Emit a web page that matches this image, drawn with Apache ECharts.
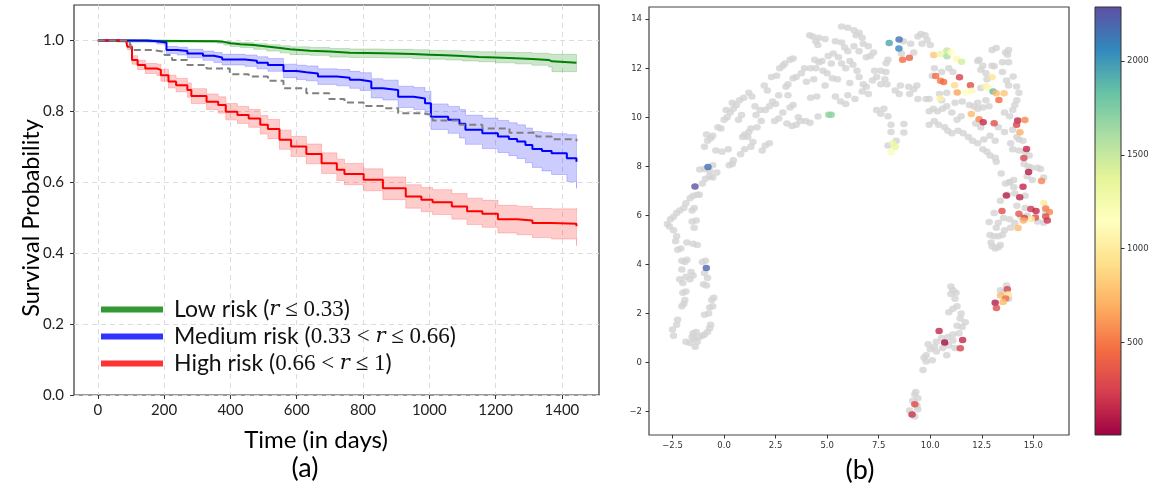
<!DOCTYPE html>
<html><head><meta charset="utf-8">
<script src="https://cdn.jsdelivr.net/npm/echarts@6/dist/echarts.min.js"></script>
<style>html,body{margin:0;padding:0;background:#fff}#c{width:1156px;height:491px}</style>
</head><body><div id="c"></div>
<script>
// ---------- Panel (a): Kaplan-Meier curves ----------
const LOW_T  = [0,60,360,380,400,430,470,510,550,580,640,700,760,860,950,1000,1050,1100,1150,1200,1260,1310,1360,1370,1444];
const LOW_S  = [1.0,0.998,0.996,0.992,0.989,0.987,0.983,0.979,0.975,0.971,0.969,0.965,0.964,0.962,0.960,0.958,0.956,0.953,0.952,0.950,0.948,0.945,0.941,0.937,0.937];
const LOW_UP = [1.0,1.0,0.999,0.997,0.995,0.994,0.991,0.988,0.985,0.982,0.980,0.977,0.976,0.975,0.974,0.972,0.971,0.969,0.968,0.967,0.966,0.964,0.962,0.961,0.961];
const LOW_LO = [1.0,0.995,0.992,0.987,0.983,0.980,0.975,0.970,0.965,0.960,0.958,0.953,0.952,0.951,0.949,0.947,0.945,0.942,0.940,0.937,0.934,0.930,0.925,0.912,0.912];

const MED_T  = [0,150,178,207,240,270,317,350,375,444,480,513,560,600,629,664,721,760,791,825,860,906,953,987,1005,1057,1091,1109,1160,1207,1240,1265,1290,1311,1340,1369,1415,1444];
const MED_S  = [1.0,0.998,0.994,0.973,0.970,0.963,0.957,0.952,0.946,0.943,0.937,0.931,0.914,0.910,0.907,0.898,0.895,0.889,0.884,0.865,0.860,0.841,0.836,0.823,0.785,0.776,0.765,0.748,0.738,0.729,0.722,0.715,0.705,0.694,0.688,0.682,0.668,0.658];
const MED_UP = [1.0,1.0,0.998,0.983,0.981,0.975,0.970,0.966,0.961,0.959,0.954,0.949,0.933,0.930,0.928,0.920,0.918,0.913,0.909,0.892,0.888,0.871,0.867,0.856,0.821,0.814,0.805,0.789,0.781,0.774,0.768,0.762,0.753,0.743,0.740,0.737,0.734,0.731];
const MED_LO = [1.0,0.996,0.990,0.963,0.959,0.951,0.944,0.938,0.931,0.927,0.920,0.913,0.895,0.890,0.886,0.876,0.872,0.865,0.859,0.838,0.832,0.811,0.805,0.790,0.749,0.738,0.725,0.707,0.695,0.684,0.675,0.667,0.655,0.642,0.632,0.622,0.602,0.583];

const HIGH_T  = [0,85,89,103,120,143,178,190,213,236,270,282,328,363,386,421,455,490,513,548,583,629,675,721,744,802,860,929,976,1010,1068,1114,1160,1207,1265,1311,1369,1444];
const HIGH_S  = [1.0,0.998,0.982,0.945,0.931,0.921,0.917,0.902,0.884,0.874,0.860,0.843,0.827,0.818,0.799,0.790,0.780,0.762,0.750,0.720,0.701,0.680,0.654,0.635,0.623,0.607,0.583,0.560,0.551,0.544,0.532,0.518,0.511,0.496,0.492,0.485,0.483,0.476];
const HIGH_UP = [1.0,1.0,0.990,0.957,0.944,0.935,0.933,0.919,0.902,0.893,0.880,0.864,0.849,0.841,0.822,0.814,0.805,0.788,0.777,0.747,0.729,0.708,0.683,0.665,0.653,0.638,0.615,0.593,0.585,0.579,0.568,0.555,0.549,0.535,0.532,0.526,0.525,0.527];
const HIGH_LO = [1.0,0.996,0.974,0.933,0.918,0.907,0.901,0.885,0.866,0.855,0.840,0.822,0.805,0.795,0.776,0.766,0.755,0.736,0.723,0.693,0.673,0.652,0.625,0.605,0.593,0.576,0.551,0.527,0.517,0.509,0.496,0.481,0.473,0.457,0.452,0.444,0.440,0.421];

const ALL_T = [0,95,100,166,201,224,270,328,398,455,513,560,629,698,744,802,860,906,976,1010,1091,1160,1242,1323,1369,1444];
const ALL_S = [1.0,1.0,0.973,0.968,0.959,0.945,0.931,0.921,0.905,0.898,0.886,0.865,0.851,0.835,0.825,0.815,0.809,0.795,0.790,0.774,0.762,0.752,0.740,0.729,0.721,0.716];

const SERIES_NAMES = ['Low risk','Medium risk','High risk'];
const LEGEND_LABELS = {
  'Low risk': '{g| }{a|Low risk (}{m|r}{n| ≤ 0.33}{a|)}',
  'Medium risk': '{g| }{a|Medium risk (}{n|0.33 < }{m|r}{n| ≤ 0.66}{a|)}',
  'High risk': '{g| }{a|High risk (}{n|0.66 < }{m|r}{n| ≤ 1}{a|)}'
};
const X_TICKS_A = [0,200,400,600,800,1000,1200,1400];
const Y_TICKS_A = [0,0.2,0.4,0.6,0.8,1.0];
const X_NAME_A = 'Time (in days)';
const Y_NAME_A = 'Survival Probability';
const PANEL_LABELS = ['(a)','(b)'];

// ---------- Panel (b): embedding scatter ----------
const X_TICKS_B = [-2.5,0,2.5,5,7.5,10,12.5,15];
const Y_TICKS_B = [-2,0,2,4,6,8,10,12,14];
const CB_TICKS = [500,1000,1500,2000];
const CB_MIN = 6, CB_MAX = 2288;
const SPECTRAL = ['#9e0142','#d53e4f','#f46d43','#fdae61','#fee08b','#ffffbf','#e6f598','#abdda4','#66c2a5','#3288bd','#5e4fa2'];

const GRAY_PTS = [
[-2.45,1.1],[-2.5,1.35],[-2.3,1.55],[-2.25,1.75],[-1.85,0.85],[-1.65,0.8],[-1.55,1.05],[-1.45,0.95],[-1.4,0.65],[-1.3,0.85],[-1.2,1.05],[-1.05,1.1],[-0.95,1.15],[-0.8,1.25],[-0.7,1.4],[-0.65,1.55],[-1.5,1.2],[-1.35,1.25],[-0.95,1.95],[-0.75,2.0],[-0.7,2.25],[-0.55,2.3],[-0.6,2.55],[-0.5,2.65],[-2.05,2.3],[-1.95,2.4],[-1.9,2.55],[-2.0,2.85],
[-1.85,2.9],[-2.15,3.4],[-2.0,3.25],[-1.85,3.5],[-1.65,3.4],[-1.5,3.55],[-1.6,3.7],[-2.05,3.8],[-1.9,4.1],[-2.05,4.15],[-1.8,4.2],[-1.0,3.2],[-0.85,3.15],[-0.8,3.45],[-0.95,3.65],[-1.05,4.1],[-0.9,4.15],[-2.25,4.6],[-2.1,4.65],[-1.8,4.9],[-1.5,4.85],[-1.3,4.8],
[-2.35,4.95],[-2.3,5.15],[-2.45,5.4],[-2.65,5.55],[-2.75,5.65],[-2.6,5.85],[-2.45,5.95],[-2.3,6.1],[-2.15,6.2],[-1.95,6.3],[-1.85,6.5],[-1.65,6.7],[-1.5,6.8],[-1.3,6.85],[-1.2,6.85],[-1.55,5.75],[-1.45,5.5],[-1.35,5.8],[-1.55,6.2],[-1.45,6.3],[-1.05,7.3],[-0.9,7.5],[-0.7,7.8],[-0.95,7.9],[-0.55,8.05],[-0.35,7.75],[-0.55,7.55],[-1.18,7.87],[-0.69,7.6],
[-0.95,8.8],[-0.8,9.05],[-0.65,9.15],[-0.85,9.3],[-0.55,9.25],[-0.3,9.6],[-0.15,9.55],[-0.4,8.65],[-0.1,8.6],[0.2,8.7],[0.25,8.05],[0.4,8.1],[0.45,8.25],[0.0,9.9],[0.15,10.0],[0.3,10.2],[0.45,10.35],[0.1,10.3],[0.4,10.6],[0.6,10.5],[0.75,10.7],[0.95,10.8],[1.2,11.0],[1.35,10.85],[1.5,10.45],[0.85,10.1],[0.7,9.9],[1.0,9.3],[0.9,9.2],[1.2,9.4],[1.3,9.55],[1.15,9.2],[1.4,9.0],[1.3,8.8],[1.0,8.7],[0.8,8.5],[1.6,9.6],[1.8,9.85],[1.75,10.3],[1.55,10.1],
[1.95,11.3],[2.1,11.1],[2.3,11.65],[2.55,11.7],[2.7,12.0],[2.85,12.1],[2.95,12.2],[3.2,12.35],[3.35,12.4],[2.0,10.3],[2.2,10.45],[2.35,10.65],[2.5,10.55],[2.65,10.9],[3.0,11.25],[3.1,11.35],[3.35,11.6],[3.5,11.65],[3.1,10.9],[3.35,10.5],[3.2,10.4],[2.85,10.2],[2.65,9.95],[2.45,9.85],[2.2,8.95],[2.0,8.85],[1.85,8.65],[3.05,9.75],[3.3,9.65],[3.5,9.7],[3.7,9.85],[3.95,9.85],[3.6,10.0],[4.2,10.8],[4.5,10.85],[4.0,11.45],[4.35,11.55],[3.75,11.8],[3.9,12.0],[4.2,12.0],[4.45,12.0],[4.4,12.35],[4.6,12.25],[4.75,12.3],[4.17,9.78],[4.56,10.04],
[4.15,13.35],[4.3,13.3],[4.45,13.1],[4.6,13.25],[4.55,12.95],[4.9,13.2],[5.4,13.1],[5.7,13.05],[5.85,12.85],[6.0,12.7],[5.7,13.7],[6.0,13.65],[6.3,13.55],[6.4,13.35],[6.55,13.45],[6.7,13.25],[6.75,13.0],[6.55,12.7],[6.9,12.45],[7.1,12.5],[6.3,12.9],[7.0,12.9],[7.25,12.65],[5.05,12.5],[5.3,12.6],[5.55,12.45],[5.2,12.2],[5.7,12.2],[6.1,12.3],[6.25,12.15],[5.9,12.0],[6.45,11.9],[6.55,11.65],[6.1,11.4],[5.5,11.55],[5.25,11.6],[4.9,11.3],[5.0,11.8],[4.8,11.9],[7.3,11.9],[7.6,11.9],[7.85,11.85],[7.4,11.65],[7.2,11.5],[6.75,11.35],[6.9,11.25],[6.7,11.05],[7.0,10.95],[6.35,10.75],[5.65,10.65],[6.0,10.9],[5.4,10.85],[5.9,10.55],[7.8,11.55],[7.9,11.35],[7.6,11.35],[7.95,12.35],[8.6,12.6],[8.7,13.1],[9.05,13.0],[9.2,12.65],[9.4,13.3],[9.6,13.0],[9.55,13.4],[9.75,13.35],[9.85,13.15],[10.0,12.95],[7.86,12.21],
[7.4,10.3],[7.6,10.15],[7.75,10.35],[7.95,10.05],[8.1,9.7],[8.1,9.4],[8.72,9.73],[8.72,9.38],[7.95,8.85],[8.35,9.05],[8.3,11.1],[8.5,10.95],[8.55,11.3],[8.95,11.25],[9.2,11.15],[9.35,11.3],[9.4,10.75],[9.0,10.95],[9.8,10.75],[9.95,10.75],[9.95,10.25],[10.15,10.35],[10.35,10.25],[10.6,10.35],[9.95,9.7],[10.2,9.85],[10.4,9.7],[10.7,9.6],[10.85,9.45],[11.05,9.35],[11.35,9.45],[11.6,9.35],[11.85,9.2],[12.05,9.05],[12.3,8.95],[12.55,8.7],[12.75,8.6],[12.9,8.45],[13.15,8.35],[12.6,9.1],[12.9,9.25],[13.15,9.05],[12.2,9.75],[12.45,9.6],[11.3,9.9],[11.5,10.05],[11.05,10.2],[10.8,10.45],[11.2,10.6],[11.55,10.65],[10.55,10.7],[10.45,10.95],[10.8,11.0],[10.1,11.7],[10.55,11.85],[10.2,12.0],[10.9,12.0],[11.1,11.85],[12.3,10.35],[12.55,10.4],[12.85,10.45],[12.3,10.6],[12.7,10.7],[11.9,10.5],[12.45,11.2],[12.75,11.55],[12.3,12.3],[12.55,12.1],[12.7,11.8],[12.37,12.35],[12.45,11.94],[12.12,10.44],
[13.0,12.75],[13.65,12.65],[13.75,12.55],[13.8,12.75],[13.0,12.1],[13.5,12.25],[13.8,12.25],[13.5,11.85],[13.7,11.5],[13.8,11.3],[14.3,11.0],[14.2,10.7],[14.1,10.5],[14.0,10.3],[13.85,10.05],[13.6,10.2],[13.3,9.6],[13.6,9.4],[14.0,9.5],[14.2,9.2],[13.9,8.95],[14.3,9.1],[14.5,9.05],[14.0,8.7],[14.3,8.65],[14.6,8.6],[14.8,8.45],[14.55,8.1],[14.75,8.0],[14.9,7.95],[15.2,7.95],[15.35,7.9],[15.5,7.55],[14.7,7.6],[14.95,7.45],[14.05,7.45],[13.85,7.35],[13.65,7.3],[14.05,7.15],[13.75,6.85],[14.1,6.9],[14.6,6.8],[14.2,6.4],[13.4,6.6],[13.1,6.1],[13.3,5.7],[13.55,5.9],[13.85,5.85],[14.1,5.7],[14.4,5.95],[14.7,6.0],[14.6,6.3],[13.9,5.5],[13.6,5.4],[13.2,5.5],[12.9,5.2],[13.1,5.15],[13.3,5.15],[13.5,5.2],[12.95,4.9],[13.0,4.75],[13.15,4.65],[13.3,4.7],[13.4,4.8],[15.2,5.75],[15.5,5.7],[15.6,6.1],[14.02,11.67],[14.19,11.26],[13.2,12.83],[13.1,12.08],[13.2,8.19],[13.44,7.71],[13.86,7.37],[12.86,5.73],
[13.7,3.15],[13.55,2.85],[13.4,2.95],[13.8,2.6],[11.0,3.1],[11.1,2.95],[11.25,2.85],[11.0,2.8],[11.2,2.6],[11.3,2.3],[11.1,2.2],[10.9,2.05],[11.5,2.0],[11.45,1.8],[11.7,1.65],[11.55,1.45],[11.3,1.5],[11.4,1.2],[11.1,1.15],[10.85,1.05],[10.55,1.0],[10.3,0.85],[10.2,0.65],[10.0,0.55],[9.9,0.75],[10.3,0.45],[10.6,0.6],[10.8,0.3],[10.9,0.7],[11.1,0.9],[11.2,0.6],[9.8,0.3],[9.7,0.2],[9.8,0.05],[10.1,0.1],[9.65,-0.3],[9.3,-1.2],[9.25,-1.3],[9.4,-1.45],[9.15,-1.55],[9.35,-1.75],[9.4,-1.9],[9.0,-1.95],[9.25,-2.2],[9.1,-2.1]
];

const RISK_PTS = [
[8.49,13.18,2150],[8.01,13.03,1950],[8.48,12.81,2050],[8.66,12.35,450],[8.99,12.43,400],[10.17,12.54,800],[10.48,12.58,1300],[10.81,12.73,1500],[10.81,12.49,1600],[11.01,12.64,1150],[11.27,12.38,1100],[11.52,12.27,1450],
[10.26,11.69,450],[10.50,11.49,500],[10.65,11.44,450],[11.42,11.64,250],[11.18,11.31,900],[11.31,11.01,650],[11.71,11.01,1150],[11.95,11.31,300],[12.00,11.09,1100],[12.67,11.27,1050],[12.83,11.20,1100],[13.00,11.64,950],[13.05,11.05,1850],[13.20,10.98,750],[13.58,10.98,800],[13.33,10.71,450],[10.48,10.77,1050],
[11.99,10.14,750],[12.37,9.92,550],[12.57,9.80,150],[13.10,9.76,300],[14.24,9.87,150],[14.19,9.70,250],[14.59,9.89,550],[14.35,9.39,700],[14.67,8.71,150],[14.54,8.34,250],[14.77,7.77,100],[15.40,7.41,550],[14.50,7.17,150],[13.69,6.81,120],[14.34,6.74,150],
[15.51,6.51,1000],[13.48,6.18,300],[14.30,6.07,350],[14.88,6.26,200],[15.13,6.18,150],[15.60,6.28,500],[15.78,6.14,550],[14.57,5.90,250],[15.10,5.92,300],[14.90,5.86,1000],[14.52,5.80,700],[15.60,5.96,300],[15.68,5.80,200],[14.26,5.49,750],
[13.74,2.99,250],[13.41,2.74,750],[13.78,2.79,950],[13.66,2.62,450],[13.53,2.47,750],[13.15,2.44,100],[13.21,2.23,300],[10.43,1.29,150],[10.70,0.82,30],[11.57,0.92,150],[11.46,0.59,250],[9.25,-1.70,300],[9.12,-2.11,200],
[-0.78,7.98,2150],[-1.41,7.18,2280],[-0.86,3.86,2200],[5.20,10.11,1700],[5.08,10.11,1700],[8.18,8.95,1300],[8.31,8.79,1350],[8.10,8.58,1200]
];

// ---------- helpers ----------
const zip = (t, s) => t.map((x, i) => [x, s[i]]);
const minusFmt = s => String(s).replace('-', '\u2212');

function band(t, up, lo, fill) {
  return {
    type: 'custom', xAxisIndex: 0, yAxisIndex: 0, silent: true, z: 1,
    data: [[0, 1]],
    renderItem: function (params, api) {
      const pts = [];
      for (let i = 0; i < t.length; i++) {
        const tn = i + 1 < t.length ? t[i + 1] : t[i];
        pts.push(api.coord([t[i], up[i]]));
        pts.push(api.coord([tn, up[i]]));
      }
      for (let i = t.length - 1; i >= 0; i--) {
        const tn = i + 1 < t.length ? t[i + 1] : t[i];
        pts.push(api.coord([tn, lo[i]]));
        pts.push(api.coord([t[i], lo[i]]));
      }
      return { type: 'polygon', shape: { points: pts }, style: { fill: fill, stroke: fill, lineWidth: 1 } };
    }
  };
}
function kmLine(name, t, s, color) {
  return { name: name, type: 'line', xAxisIndex: 0, yAxisIndex: 0, step: 'end', showSymbol: false, z: 3,
    data: zip(t, s), lineStyle: { color: color, width: 2 }, itemStyle: { color: color } };
}

const FA = 'Lato';
const chart = echarts.init(document.getElementById('c'), null, { renderer: 'canvas' });
const option = {
  animation: false,
  grid: [
    { left: 74, top: 5, width: 525, height: 390, show: true, borderColor: '#333', borderWidth: 1.2, backgroundColor: 'transparent' },
    { left: 649, top: 7, width: 420, height: 428, show: true, borderColor: '#444', borderWidth: 1.2, backgroundColor: 'transparent' },
    { left: 1095, top: 7, width: 26, height: 428 }
  ],
  xAxis: [
    { type: 'value', gridIndex: 0, min: -72, max: 1512,
      axisLine: { show: false, onZero: false },
      axisTick: { show: true, customValues: X_TICKS_A, length: 4, lineStyle: { color: '#333' } },
      axisLabel: { customValues: X_TICKS_A, fontFamily: FA, fontSize: 15, color: '#222', margin: 8,
        formatter: v => String(v) },
      splitLine: { show: true, lineStyle: { color: '#dcdcdc', type: [5, 4], width: 1 } } },
    { type: 'value', gridIndex: 1, min: -3.64, max: 16.73,
      axisLine: { show: false, onZero: false },
      axisTick: { show: true, customValues: X_TICKS_B, length: 3.5, lineStyle: { color: '#333' } },
      axisLabel: { customValues: X_TICKS_B, fontFamily: 'DejaVu Sans', fontSize: 8.5, color: '#333', margin: 6,
        formatter: v => minusFmt(v.toFixed(1)) },
      splitLine: { show: false } },
    { type: 'value', gridIndex: 2, min: 0, max: 1, show: false }
  ],
  yAxis: [
    { type: 'value', gridIndex: 0, min: 0, max: 1.1,
      axisLine: { show: false, onZero: false },
      axisTick: { show: true, customValues: Y_TICKS_A, length: 4, lineStyle: { color: '#333' } },
      axisLabel: { customValues: Y_TICKS_A, fontFamily: FA, fontSize: 15, color: '#222', margin: 10,
        formatter: v => v.toFixed(1) },
      splitLine: { show: true, lineStyle: { color: '#dcdcdc', type: [5, 4], width: 1 } } },
    { type: 'value', gridIndex: 1, min: -2.95, max: 14.5,
      axisLine: { show: false, onZero: false },
      axisTick: { show: true, customValues: Y_TICKS_B, length: 3.5, lineStyle: { color: '#333' } },
      axisLabel: { customValues: Y_TICKS_B, fontFamily: 'DejaVu Sans', fontSize: 8.5, color: '#333', margin: 7,
        formatter: v => minusFmt(String(v)) },
      splitLine: { show: false } },
    { type: 'value', gridIndex: 2, min: CB_MIN, max: CB_MAX, position: 'right',
      axisLine: { show: false, onZero: false },
      axisTick: { show: true, customValues: CB_TICKS, length: 3.5, lineStyle: { color: '#333' } },
      axisLabel: { customValues: CB_TICKS, fontFamily: 'DejaVu Sans', fontSize: 8.5, color: '#333', margin: 6,
        formatter: v => String(v) },
      splitLine: { show: false } }
  ],
  visualMap: [{ show: false, type: 'continuous', seriesIndex: 9, dimension: 2, min: CB_MIN, max: CB_MAX,
    inRange: { color: SPECTRAL } }],
  legend: {
    data: SERIES_NAMES, orient: 'vertical', left: 96, top: 293, itemWidth: 62, itemHeight: 6, itemGap: 4,
    icon: 'rect', itemStyle: { opacity: 0.8 },
    formatter: name => LEGEND_LABELS[name],
    textStyle: { rich: {
      g: { width: 6 },
      a: { fontFamily: FA, fontSize: 23, color: '#111', lineHeight: 24 },
      m: { fontFamily: 'DejaVu Serif', fontStyle: 'italic', fontSize: 21, color: '#111', lineHeight: 24 },
      n: { fontFamily: 'Liberation Serif', fontSize: 23, color: '#111', lineHeight: 24 }
    } }
  },
  graphic: [
    { type: 'text', x: 316, y: 440, style: { text: X_NAME_A, fontFamily: FA, fontSize: 24, fill: '#000', align: 'center', verticalAlign: 'middle' } },
    { type: 'text', x: 31, y: 218, rotation: Math.PI / 2, style: { text: Y_NAME_A, fontFamily: FA, fontSize: 23.5, fill: '#000', align: 'center', verticalAlign: 'middle' } },
    { type: 'text', x: 305, y: 468, style: { text: PANEL_LABELS[0], fontFamily: FA, fontSize: 27, fill: '#000', align: 'center', verticalAlign: 'middle' } },
    { type: 'text', x: 860, y: 470, style: { text: PANEL_LABELS[1], fontFamily: FA, fontSize: 27, fill: '#000', align: 'center', verticalAlign: 'middle' } }
  ],
  series: [
    band(LOW_T, LOW_UP, LOW_LO, 'rgba(0,128,0,0.2)'),
    band(MED_T, MED_UP, MED_LO, 'rgba(0,0,255,0.2)'),
    band(HIGH_T, HIGH_UP, HIGH_LO, 'rgba(255,0,0,0.2)'),
    kmLine(SERIES_NAMES[0], LOW_T, LOW_S, '#008000'),
    kmLine(SERIES_NAMES[1], MED_T, MED_S, '#0000ff'),
    kmLine(SERIES_NAMES[2], HIGH_T, HIGH_S, '#ff0000'),
    { name: 'All', type: 'line', xAxisIndex: 0, yAxisIndex: 0, step: 'end', showSymbol: false, z: 4,
      data: zip(ALL_T, ALL_S), lineStyle: { color: '#808080', width: 2, type: [7, 4] }, itemStyle: { color: '#808080' } },
    { type: 'custom', xAxisIndex: 2, yAxisIndex: 2, silent: true, data: [[0, CB_MIN]],
      renderItem: function (params, api) {
        const p0 = api.coord([0, CB_MIN]), p1 = api.coord([1, CB_MAX]);
        const stops = SPECTRAL.map((c, i) => ({ offset: i / (SPECTRAL.length - 1), color: c }));
        return { type: 'rect', shape: { x: p0[0], y: p1[1], width: p1[0] - p0[0], height: p0[1] - p1[1] },
          style: { fill: new echarts.graphic.LinearGradient(0, 1, 0, 0, stops), stroke: '#333', lineWidth: 1 } };
      } },
    { type: 'scatter', xAxisIndex: 1, yAxisIndex: 1, data: GRAY_PTS, symbol: 'circle', symbolSize: [7.5, 6.5],
      itemStyle: { color: '#d3d3d3' }, z: 2, silent: true },
    { type: 'scatter', xAxisIndex: 1, yAxisIndex: 1, data: RISK_PTS, symbol: 'circle', symbolSize: [7.5, 6.5],
      z: 3, silent: true }
  ]
};
chart.setOption(option);
</script></body></html>
